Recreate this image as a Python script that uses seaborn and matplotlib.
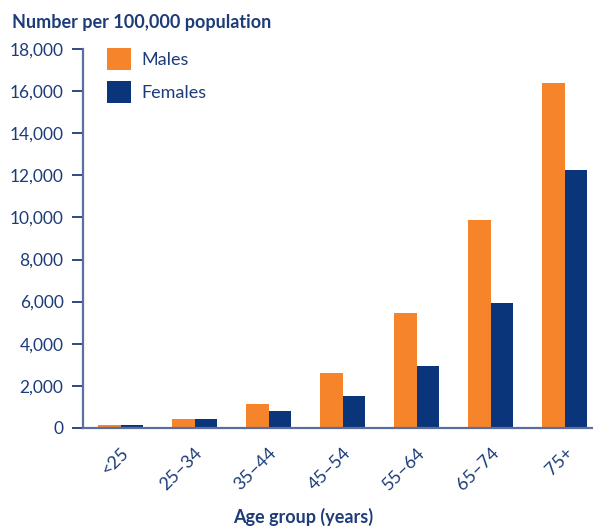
import pandas as pd
import matplotlib.pyplot as plt
import seaborn as sns

# ===== Data =====
age_groups = ["<25", "25–34", "35–44", "45–54", "55–64", "65–74", "75+"]
males = [130, 420, 1140, 2610, 5460, 9880, 16380]
females = [130, 420, 800, 1520, 2940, 5930, 12230]
y_ticks = [0, 2000, 4000, 6000, 8000, 10000, 12000, 14000, 16000, 18000]

df = pd.DataFrame({
    "age": age_groups * 2,
    "rate": males + females,
    "sex": ["Males"] * len(males) + ["Females"] * len(females),
})

# ===== Style =====
sns.set_style("white")
plt.rcParams["font.family"] = ["Lato", "DejaVu Sans"]
navy_text = "#1d3c78"
axis_col = "#5b6f9f"
palette = {"Males": "#f5842a", "Females": "#0b357a"}

fig = plt.figure(figsize=(5.93, 5.27), dpi=100)
ax = fig.add_axes([0.14, 0.188, 0.86, 0.719])

sns.barplot(data=df, x="age", y="rate", hue="sex", palette=palette,
            width=0.61, saturation=1, linewidth=0, ax=ax, order=age_groups)

ax.set_ylim(0, 18000)
ax.set_xlim(-0.507, 6.385)
ax.set_yticks(y_ticks)
ax.set_yticklabels([f"{v:,}" for v in y_ticks], color=navy_text, fontsize=12.5)
ax.set_xticks(range(len(age_groups)))
ax.set_xticklabels(age_groups, rotation=45, ha="right", rotation_mode="anchor",
                   color=navy_text, fontsize=13)
ax.tick_params(axis="y", length=8, width=1.3, color=navy_text, pad=6, direction="out", left=True)
ax.tick_params(axis="x", length=0, pad=12)

for side in ["top", "right"]:
    ax.spines[side].set_visible(False)
for side in ["left", "bottom"]:
    ax.spines[side].set_color(axis_col)
    ax.spines[side].set_linewidth(1.6)

ax.set_xlabel("")
ax.set_ylabel("")
fig.text(0.511, 0.019, "Age group (years)", color=navy_text, fontsize=13,
         fontweight="bold", ha="center", va="center")
fig.text(0.02, 0.958, "Number per 100,000 population", color=navy_text,
         fontsize=13, fontweight="bold", va="center", ha="left")

leg = ax.legend(loc="upper left", bbox_to_anchor=(0.015, 1.045), frameon=False,
                handlelength=1.35, handleheight=1.5, handletextpad=0.55,
                labelspacing=0.62, fontsize=13)
for t in leg.get_texts():
    t.set_color(navy_text)

fig.savefig("out.png", dpi=100)
